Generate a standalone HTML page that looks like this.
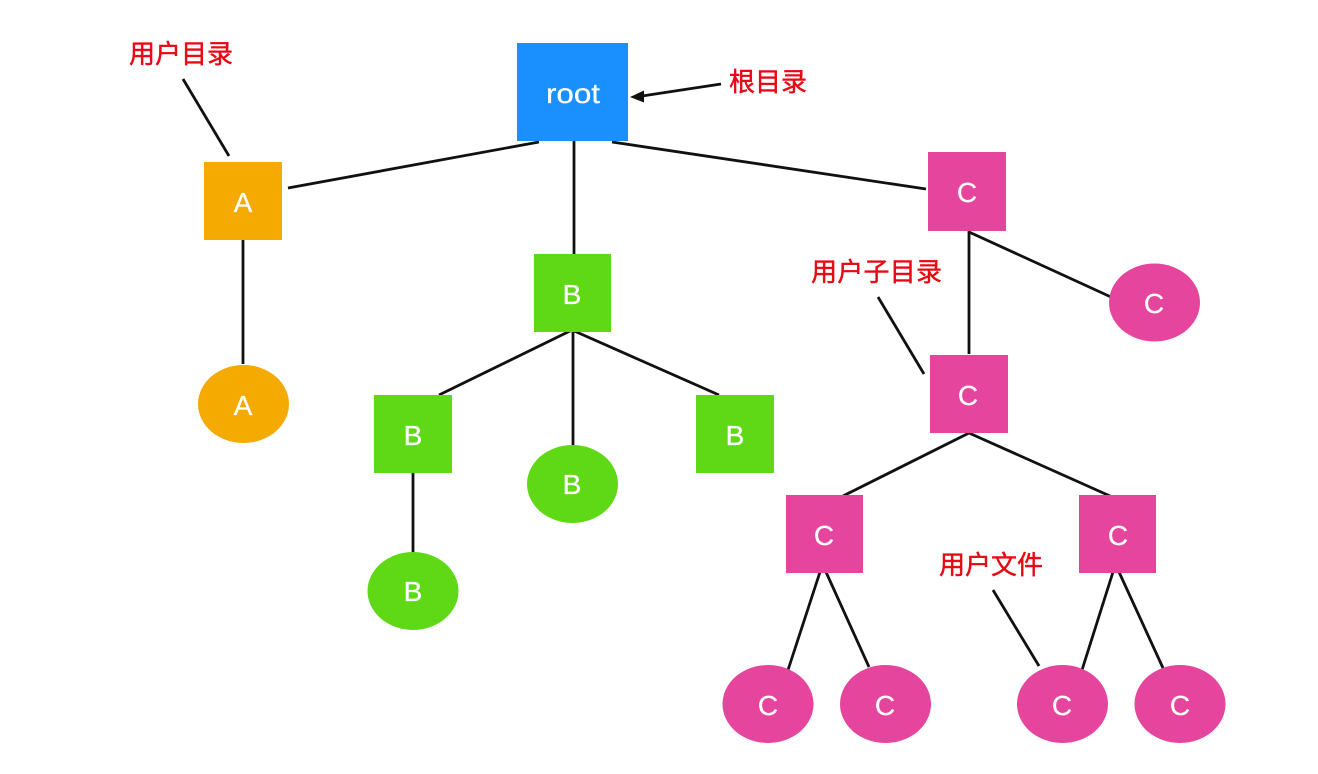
<!DOCTYPE html>
<html>
<head>
<meta charset="utf-8">
<style>
html,body{margin:0;padding:0;background:#fff;width:1318px;height:774px;overflow:hidden}
svg{display:block}
text{font-family:"Liberation Sans","Noto Sans CJK SC",sans-serif}
.n{fill:#fff;font-size:28px;text-anchor:middle;stroke:#fff;stroke-width:.25}
.l{fill:#e60a14;font-size:26px;text-anchor:start;stroke:#e60a14;stroke-width:.45;font-family:"Noto Sans CJK SC","Liberation Sans",sans-serif}
line{stroke:#111;stroke-width:2.8}
</style>
</head>
<body>
<svg width="1318" height="774" viewBox="0 0 1318 774">
<!-- connectors -->
<line x1="183" y1="79" x2="229" y2="156"/>
<line x1="288" y1="188" x2="539" y2="142"/>
<line x1="574" y1="141" x2="574" y2="254"/>
<line x1="612" y1="142" x2="926" y2="189"/>
<line x1="243" y1="240" x2="243" y2="364"/>
<line x1="572" y1="330" x2="439" y2="395"/>
<line x1="573" y1="330" x2="573" y2="446"/>
<line x1="572" y1="330" x2="719" y2="395"/>
<line x1="413" y1="472" x2="413" y2="552"/>
<line x1="969" y1="231" x2="969" y2="354"/>
<line x1="969" y1="232" x2="1111" y2="297"/>
<line x1="878" y1="297" x2="924" y2="374"/>
<line x1="969" y1="433" x2="843" y2="496"/>
<line x1="969" y1="433" x2="1110" y2="496"/>
<line x1="820" y1="572" x2="788" y2="670"/>
<line x1="826" y1="572" x2="869" y2="667"/>
<line x1="1113" y1="572" x2="1082" y2="670"/>
<line x1="1119" y1="572" x2="1163" y2="668"/>
<line x1="993" y1="590" x2="1039" y2="666"/>
<line x1="721" y1="84" x2="642" y2="96"/>
<polygon points="630,97 644,90.500 644,102.500" fill="#111"/>
<!-- squares -->
<rect x="517" y="43" width="111" height="98" fill="#1a90ff"/>
<rect x="204" y="162" width="78" height="78" fill="#f4aa00"/>
<rect x="534" y="254" width="77" height="78" fill="#5fd916"/>
<rect x="374" y="395" width="78" height="78" fill="#5fd916"/>
<rect x="696" y="395" width="78" height="78" fill="#5fd916"/>
<rect x="928" y="152" width="78" height="79" fill="#e5459c"/>
<rect x="930" y="355" width="78" height="78" fill="#e5459c"/>
<rect x="786" y="495" width="77" height="78" fill="#e5459c"/>
<rect x="1079" y="495" width="77" height="78" fill="#e5459c"/>
<!-- ellipses -->
<ellipse cx="243.500" cy="404" rx="45.500" ry="39" fill="#f4aa00"/>
<ellipse cx="572.500" cy="484" rx="45.500" ry="39" fill="#5fd916"/>
<ellipse cx="413" cy="591" rx="45.500" ry="39" fill="#5fd916"/>
<ellipse cx="1154.500" cy="302.500" rx="45.500" ry="39" fill="#e5459c"/>
<ellipse cx="768" cy="704" rx="45.500" ry="39" fill="#e5459c"/>
<ellipse cx="885.500" cy="704" rx="45.500" ry="39" fill="#e5459c"/>
<ellipse cx="1062.500" cy="704" rx="45.500" ry="39" fill="#e5459c"/>
<ellipse cx="1180" cy="704" rx="45.500" ry="39" fill="#e5459c"/>
<!-- node labels -->
<text class="n" x="573" y="103" textLength="54" lengthAdjust="spacingAndGlyphs">root</text>
<text class="n" x="243" y="212">A</text>
<text class="n" x="243" y="415">A</text>
<text class="n" x="572" y="304">B</text>
<text class="n" x="413" y="445">B</text>
<text class="n" x="735" y="445">B</text>
<text class="n" x="572" y="494">B</text>
<text class="n" x="413" y="601">B</text>
<text class="n" x="967" y="202">C</text>
<text class="n" x="1154" y="313">C</text>
<text class="n" x="968" y="405">C</text>
<text class="n" x="824" y="545">C</text>
<text class="n" x="1118" y="545">C</text>
<text class="n" x="768" y="715">C</text>
<text class="n" x="885" y="715">C</text>
<text class="n" x="1062" y="715">C</text>
<text class="n" x="1180" y="715">C</text>
<!-- red annotations -->
<text class="l" x="129" y="63">用户目录</text>
<text class="l" x="729" y="91">根目录</text>
<text class="l" x="811" y="281" textLength="131">用户子目录</text>
<text class="l" x="939" y="574">用户文件</text>
</svg>
</body>
</html>
